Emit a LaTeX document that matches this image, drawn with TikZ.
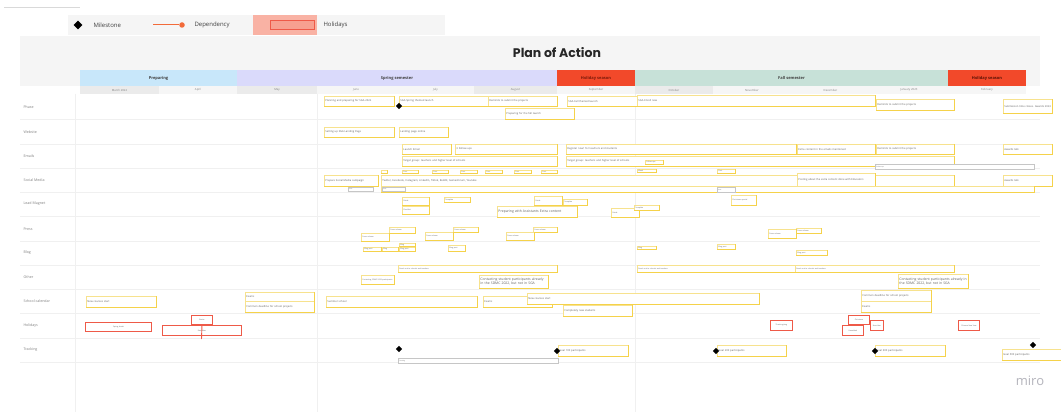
\documentclass[tikz,border=0pt]{standalone}
\usepackage{fontspec}
\setmainfont{Open Sans}
\newfontfamily\titlefont{Poppins}
\usetikzlibrary{shapes.geometric}
\definecolor{stkline}{HTML}{F7E28E}
\definecolor{stkbot}{HTML}{F5D24A}
\definecolor{txt}{HTML}{606060}
\definecolor{holred}{HTML}{EE5A48}
\definecolor{prepc}{HTML}{C8E7FA}
\definecolor{springc}{HTML}{DADAFB}
\definecolor{holc}{HTML}{F2492A}
\definecolor{fallc}{HTML}{C7E1D8}
\definecolor{bgg}{HTML}{F5F5F5}
\definecolor{mong}{HTML}{EBEBEB}
\definecolor{monl}{HTML}{F6F6F6}
\definecolor{gridc}{HTML}{F0F0F0}
\definecolor{salmon}{HTML}{F9B2A4}
\definecolor{salmonin}{HTML}{F7A090}
\definecolor{depc}{HTML}{F26B3A}
\definecolor{holtxt}{HTML}{7A1A0A}
\definecolor{holtxtb}{HTML}{5A1205}
\definecolor{logoc}{HTML}{B4B4BC}
\tikzset{
  task/.style={draw=stkline, fill=white, line width=0.55pt, inner xsep=1.2pt, inner ysep=0.4pt, align=left, text=txt, anchor=north west},
  hbox/.style={draw=holred, fill=white, line width=0.95pt, inner xsep=1.2pt, inner ysep=0.4pt, align=center, text=txt, anchor=north west, font=\fontsize{1.8}{2.1}\selectfont},
  gbox/.style={draw=gray!45, fill=white, line width=0.4pt, inner xsep=1.2pt, inner ysep=0.2pt, align=left, text=txt, anchor=north west, font=\fontsize{1.5}{1.8}\selectfont},
  ttiny/.style={font=\fontsize{1.8}{2.1}\selectfont},
  tsm/.style={font=\fontsize{2.6}{3.1}\selectfont},
  tmd/.style={font=\fontsize{3.4}{4.1}\selectfont},
  bot/.style={draw=stkbot, line width=1.1pt},
  mile/.style={diamond, fill=black, minimum size=6.5pt, inner sep=0pt},
  rowlab/.style={anchor=west, text=gray, font=\fontsize{3.6}{4}\selectfont},
  phlab/.style={font=\bfseries\fontsize{4}{5}\selectfont, text=black!75},
  monlab/.style={font=\fontsize{2.8}{3}\selectfont, text=gray},
  grid/.style={draw=gridc, line width=0.4pt}
}
% #1 name, #2 x1, #3 y1, #4 x2, #5 y2, #6 text style, #7 text
\newcommand\tsk[7]{%
  \pgfmathsetmacro\tskw{#4-#2-2.4}%
  \pgfmathsetmacro\tskh{#5-#3}%
  \node[task,#6,text width=\tskw pt,minimum height=\tskh pt] (#1) at (#2,#3) {#7};
  \draw[bot] (#1.south west) -- (#1.south east);
  \draw[stkbot, line width=0.7pt] (#1.south east) -- (#1.north east);}
\newcommand\hbx[6]{%
  \pgfmathsetmacro\tskw{#4-#2-2.4}%
  \pgfmathsetmacro\tskh{#5-#3}%
  \node[hbox,text width=\tskw pt,minimum height=\tskh pt] (#1) at (#2,#3) {#6};}
\newcommand\gbx[6]{%
  \pgfmathsetmacro\tskw{#4-#2-2.4}%
  \pgfmathsetmacro\tskh{#5-#3}%
  \node[gbox,text width=\tskw pt,minimum height=\tskh pt] (#1) at (#2,#3) {#6};}
\begin{document}
\begin{tikzpicture}[x=1pt,y=-1pt]
\useasboundingbox (0,0) rectangle (1061,412);
\fill[white] (0,0) rectangle (1061,412);
% shadow line
\draw[gray!30, line width=0.6pt] (4,7) -- (80,7);
% legend
\fill[bgg] (68,15) rectangle (445,35);
\fill[salmon] (253,15) rectangle (317,35);
\node[mile, minimum size=9pt] (lgm) at (78,25) {};
\node[anchor=west, font=\fontsize{6}{7}\selectfont, text=black!75] (lgmt) at (90,25) {Milestone};
\coordinate (lgd1) at (153,25);
\node[circle, fill=depc, inner sep=0pt, minimum size=5.5pt] (lgdot) at (182,25) {};
\draw[depc, line width=1pt] (lgd1) -- (lgdot);
\node[anchor=west, font=\fontsize{6}{7}\selectfont, text=black!75] (lgdt) at (191,25) {Dependency};
\node[draw=holred, fill=salmonin, line width=0.9pt, minimum width=44pt, minimum height=9pt, inner sep=0pt] (lgh) at (292,25) {};
\node[anchor=west, font=\fontsize{6}{7}\selectfont, text=black!75] (lght) at (320,25) {Holidays};
% title band
\fill[bgg] (20,36) rectangle (1040,86);
\node[font=\titlefont\bfseries\fontsize{12.5}{14}\selectfont, text=black!85] (title) at (557,53) {Plan of Action};
% phases
\fill[prepc] (80,70) rectangle (237,86);
\fill[springc] (237,70) rectangle (557,86);
\fill[holc] (557,70) rectangle (635,86);
\fill[fallc] (635,70) rectangle (948,86);
\fill[holc] (948,70) rectangle (1026,86);
\node[phlab] (ph1) at (158.5,78) {Preparing};
\node[phlab] (ph2) at (397,78) {Spring semester};
\node[phlab, text=holtxt] (ph3) at (596,78) {Holiday season};
\node[phlab] (ph4) at (791.5,78) {Fall semester};
\node[phlab, text=holtxtb] (ph5) at (987,78) {Holiday season};
% months
\fill[mong] (80,86) rectangle (159,94);
\fill[monl] (159,86) rectangle (237,94);
\fill[mong] (237,86) rectangle (317,94);
\fill[monl] (317,86) rectangle (474,94);
\fill[mong] (474,86) rectangle (557,94);
\fill[monl] (557,86) rectangle (635,94);
\fill[mong] (635,86) rectangle (713,94);
\fill[monl] (713,86) rectangle (1026,94);
\node[monlab] (m1) at (119.5,90) {March 2022};
\node[monlab] (m2) at (198,90) {April};
\node[monlab] (m3) at (277,90) {May};
\node[monlab] (m4) at (356,90) {June};
\node[monlab] (m5) at (435.5,90) {July};
\node[monlab] (m6) at (515.5,90) {August};
\node[monlab] (m7) at (596,90) {September};
\node[monlab] (m8) at (674,90) {October};
\node[monlab] (m9) at (752,90) {November};
\node[monlab] (m10) at (830.5,90) {December};
\node[monlab] (m11) at (909,90) {January 2023};
\node[monlab] (m12) at (987,90) {February};
% grid
\foreach \yy in {119,144,168,192,216,241,265,289,313,338,362} \draw[grid] (20,\yy) -- (1040,\yy);
\draw[grid] (75,94) -- (75,412);
\draw[grid] (317,94) -- (317,412);
\draw[grid] (635,94) -- (635,412);
% row labels
\node[rowlab] (r1) at (20,107) {Phase};
\node[rowlab] (r2) at (20,132) {Website};
\node[rowlab] (r3) at (20,156) {Emails};
\node[rowlab] (r4) at (20,180) {Social Media};
\node[rowlab] (r5) at (20,204) {Lead Magnet};
\node[rowlab] (r6) at (20,229) {Press};
\node[rowlab] (r7) at (20,253) {Blog};
\node[rowlab] (r8) at (20,277) {Other};
\node[rowlab] (r9) at (20,301) {School calendar};
\node[rowlab] (r10) at (20,326) {Holidays};
\node[rowlab] (r11) at (20,350) {Tracking};
% Phase
\tsk{p1}{324}{96}{394}{106}{tsm}{Planning and preparing for SGA 2022}
\tsk{p2}{399}{96}{488}{106}{tsm}{SGA Spring themed launch}
\tsk{p3}{488}{96}{557}{106}{tsm}{Reminds to submit the projects}
\tsk{p4}{505}{108}{574}{119}{tsm}{Preparing for the fall launch}
\tsk{p5}{567}{96}{637}{106}{tsm}{SGA Fall themed launch}
\tsk{p6}{637}{95}{875}{106}{tsm}{SGA Enroll now}
\tsk{p7}{876}{99}{954}{110}{tsm}{Reminds to submit the projects}
\tsk{p8}{1003}{99}{1052}{113}{tsm}{Submission time closes. Awards 2023}
\node[mile] (d1) at (399,106) {};
% Website
\tsk{w1}{324}{127}{394}{137}{tsm}{Setting up SGA Landing Page}
\tsk{w2}{399}{127}{448}{137}{tsm}{Landing page online}
% Emails
\tsk{e1}{402}{144}{451}{154}{tsm}{Launch Email}
\tsk{e2}{455}{144}{557}{154}{tsm}{3 Follow ups}
\tsk{e3}{402}{156}{557}{166}{tsm}{Target group: teachers and higher level of schools}
\tsk{e4}{566}{144}{796}{154}{tsm}{Register now! for teachers and students}
\tsk{e5}{797}{144}{875}{154}{tsm}{Extra content in the emails mentioned}
\tsk{e6}{876}{144}{954}{154}{tsm}{Reminds to submit the projects}
\tsk{e7}{1003}{144}{1052}{154}{tsm}{Awards talk}
\tsk{e8}{566}{156}{954}{166}{tsm}{Target group: teachers and higher level of schools}
\tsk{e9}{645}{160}{663}{164}{ttiny}{Follow ups}
\gbx{e10}{875}{164}{1034}{169}{Follow ups}
% Social media
\tsk{s1}{324}{175}{378}{186}{tsm}{Prepare Social Media campaign}
\tsk{s2}{381}{175}{954}{186}{tsm}{Twitter, Facebook, Instagram, LinkedIn, Tiktok, Reddit, Gamesforum, Youtube}
\tsk{s3}{797}{173}{875}{186}{tsm}{Posting about the extra content done with Educators}
\tsk{s5}{1003}{175}{1052}{186}{tsm}{Awards talk}
\tsk{s6}{381}{186}{1034}{192}{ttiny}{}
\gbx{s7}{348}{187}{373}{191}{Post}
\gbx{s8}{382}{187}{405}{191}{Post}
\gbx{s9}{717}{187}{735}{192}{Post}
\tsk{t1}{381}{170}{387}{173}{ttiny}{}
\tsk{t2}{402}{170}{418}{173}{ttiny}{Post}
\tsk{t3}{432}{170}{448}{173}{ttiny}{Post}
\tsk{t4}{460}{170}{477}{173}{ttiny}{Post}
\tsk{t5}{485}{170}{502}{173}{ttiny}{Post}
\tsk{t6}{514}{170}{531}{173}{ttiny}{Post}
\tsk{t7}{541}{170}{557}{173}{ttiny}{Post}
\tsk{t8}{637}{169}{656}{172}{ttiny}{Week}
\tsk{t9}{717}{169}{735}{173}{ttiny}{Post}
% Lead magnet
\tsk{l1}{402}{197}{429}{205}{ttiny}{Guide}
\tsk{l2}{402}{206}{429}{214}{ttiny}{Checklist}
\tsk{l3}{444}{197}{470}{202}{ttiny}{Template}
\tsk{l4}{497}{206}{577}{217}{tmd}{Preparing with Assistants Extra content}
\tsk{l5}{534}{196}{562}{205}{ttiny}{Guide}
\tsk{l6}{563}{199}{587}{205}{ttiny}{Template}
\tsk{l7}{611}{208}{639}{217}{ttiny}{Guide}
\tsk{l8}{634}{205}{659}{210}{ttiny}{Template}
\tsk{l9}{731}{195}{756}{205}{ttiny}{Christmas special}
% Press
\tsk{q1}{389}{227}{415}{233}{ttiny}{Press release}
\tsk{q2}{361}{233}{389}{241}{ttiny}{Press release}
\tsk{q3}{453}{227}{478}{232}{ttiny}{Press release}
\tsk{q4}{425}{232}{453}{240}{ttiny}{Press release}
\tsk{q5}{533}{227}{557}{232}{ttiny}{Press release}
\tsk{q6}{506}{232}{534}{240}{ttiny}{Press release}
\tsk{q7}{796}{228}{821}{233}{ttiny}{Press release}
\tsk{q8}{768}{229}{796}{238}{ttiny}{Press release}
% Blog
\tsk{b1}{363}{247}{381}{251}{ttiny}{Blog post}
\tsk{b2}{382}{247}{398}{251}{ttiny}{Blog}
\tsk{b3}{399}{243}{415}{246}{ttiny}{Blog}
\tsk{b4}{399}{247}{415}{251}{ttiny}{Blog post}
\tsk{b5}{448}{245}{465}{251}{ttiny}{Blog post}
\tsk{b6}{637}{246}{656}{249}{ttiny}{Blog}
\tsk{b7}{717}{244}{735}{249}{ttiny}{Blog post}
\tsk{b8}{796}{250}{827}{255}{ttiny}{Blog post}
% Other
\tsk{o1}{398}{265}{557}{272}{ttiny}{Reach out to schools and teachers}
\tsk{o2}{361}{275}{394}{284}{ttiny}{Contacting SDMC 2022 participants}
\tsk{o3}{479}{275}{548}{288}{tmd}{Contacting student participants already in the SDMC 2022, but not in SGA}
\tsk{o4}{637}{265}{795}{272}{ttiny}{Reach out to schools and teachers}
\tsk{o5}{795}{265}{954}{272}{ttiny}{Reach out to schools and teachers}
\tsk{o6}{898}{274}{968}{288}{tmd}{Contacting student participants already in the SDMC 2022, but not in SGA}
% School calendar
\tsk{c1}{86}{296}{156}{307}{tsm}{New courses start}
\tsk{c2}{245}{292}{314}{301}{tsm}{Exams}
\tsk{c3}{245}{301}{314}{312}{tsm}{Common deadline for school projects}
\tsk{c4}{326}{296}{477}{307}{tsm}{Summer school}
\tsk{c5}{483}{296}{552}{307}{tsm}{Exams}
\tsk{c6}{527}{293}{759}{304}{tsm}{New courses start}
\tsk{c7}{563}{305}{632}{316}{tsm}{Completely new students}
\tsk{c8}{861}{290}{931}{301}{tsm}{Common deadline for school projects}
\tsk{c9}{861}{301}{931}{312}{tsm}{Exams}
% Holidays
\hbx{h1}{85}{322}{151}{331}{Spring break}
\hbx{h3}{162}{325}{241}{335}{Ramadan}
\hbx{h2}{191}{315}{212}{324}{Easter}
\coordinate (h2end) at (201.5,339);
\draw[holred, line width=0.9pt] (h2.south) -- (h2end);
\hbx{h4}{770}{320}{792}{330}{Thanks-giving}
\hbx{h5}{848}{315}{869}{324}{Christmas}
\hbx{h6}{870}{320}{883}{330}{New Year}
\hbx{h7}{842}{325}{863}{335}{Hanukkah}
\hbx{h8}{958}{320}{979}{330}{Chinese New Year}
% Tracking
\gbx{gt}{398}{358}{558}{363}{Tracking}
\tsk{g1}{558}{345}{628}{356}{tsm}{Goal 100 participants}
\tsk{g2}{717}{345}{786}{356}{tsm}{Goal 200 participants}
\tsk{g3}{875}{345}{945}{356}{tsm}{Goal 300 participants}
\tsk{g4}{1002}{349}{1061}{360}{tsm}{Goal 500 participants}
\node[mile] (k1) at (399,349) {};
\node[mile] (k2) at (557,351) {};
\node[mile] (k3) at (716,351) {};
\node[mile] (k4) at (875,351) {};
\node[mile] (k5) at (1033,345) {};
% logo
\node[font=\fontsize{13}{14}\selectfont, text=logoc] (logo) at (1030,381) {miro};
\end{tikzpicture}
\end{document}
